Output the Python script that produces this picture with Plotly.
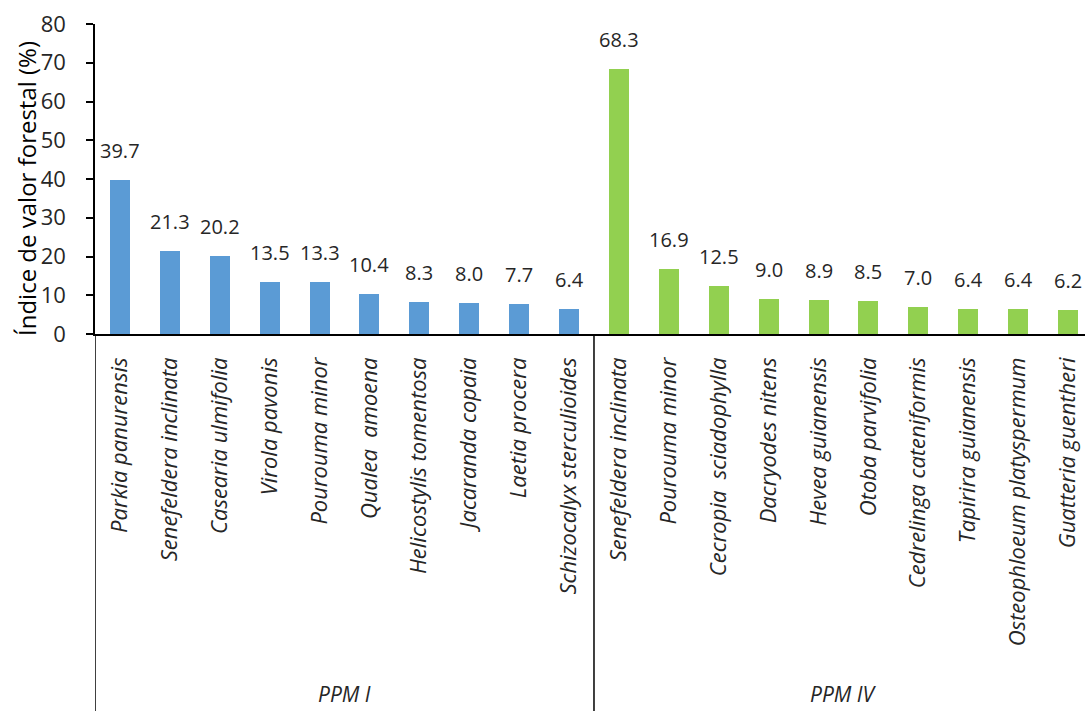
import plotly.graph_objects as go

# Species per permanent plot and their forest value index (%)
ppm1_species = ["Parkia panurensis", "Senefeldera inclinata", "Casearia ulmifolia",
                "Virola pavonis", "Pourouma minor", "Qualea\u00a0 amoena",
                "Helicostylis tomentosa", "Jacaranda copaia", "Laetia procera",
                "Schizocalyx sterculioides"]
ppm1_values = [39.7, 21.3, 20.2, 13.5, 13.3, 10.4, 8.3, 8.0, 7.7, 6.4]

ppm4_species = ["Senefeldera inclinata", "Pourouma minor", "Cecropia\u00a0 sciadophylla",
                "Dacryodes nitens", "Hevea guianensis", "Otoba parvifolia",
                "Cedrelinga cateniformis", "Tapirira guianensis",
                "Osteophloeum platyspermum", "Guatteria guentheri"]
ppm4_values = [68.3, 16.9, 12.5, 9.0, 8.9, 8.5, 7.0, 6.4, 6.4, 6.2]

group_names = ["PPM I", "PPM IV"]
y_ticks = [0, 10, 20, 30, 40, 50, 60, 70, 80]
y_title = "Índice de valor forestal (%)"

FONT = "Open Sans"
TXT = "#262626"

n1 = len(ppm1_species)
x1 = list(range(n1))
x4 = list(range(n1, n1 + len(ppm4_species)))

fig = go.Figure()
fig.add_trace(go.Bar(x=x1, y=ppm1_values, width=0.4,
                     marker=dict(color="#5B9BD5", line=dict(width=0))))
fig.add_trace(go.Bar(x=x4, y=ppm4_values, width=0.4,
                     marker=dict(color="#92D050", line=dict(width=0))))

all_x = x1 + x4
all_names = ppm1_species + ppm4_species
all_values = ppm1_values + ppm4_values

# Value labels above each bar
for xv, v in zip(all_x, all_values):
    fig.add_annotation(x=xv, y=v, xref="x", yref="y", text=f"{v:.1f}",
                       showarrow=False, yanchor="bottom", yshift=14,
                       font=dict(family=FONT, size=20, color=TXT))

H, W = 711, 1085
left, top, base = 95, 24, 334
plot_h = base - top
plot_w = W - left
bottom_paper = -(H - base) / plot_h

fig.update_layout(
    width=W, height=H,
    margin=dict(l=left, r=0, t=top, b=H - base),
    paper_bgcolor="white", plot_bgcolor="white",
    showlegend=False, bargap=0,
    font=dict(family=FONT, color=TXT),
    xaxis=dict(
        tickmode="array", tickvals=all_x,
        ticktext=[f"<i>{s}</i>" for s in all_names],
        tickangle=-90, tickfont=dict(family=FONT, size=22, color=TXT),
        range=[-0.5, 19.34], showline=True, linecolor="black", linewidth=1.5,
        ticks="", showgrid=False, zeroline=False, ticklabelstandoff=13,
    ),
    yaxis=dict(
        range=[0, 80], tickvals=y_ticks, ticks="outside", ticklen=7,
        tickcolor="black", tickwidth=1.5, showline=True, linecolor="black",
        linewidth=1.5, showgrid=False, zeroline=False, ticklabelstandoff=16,
        tickfont=dict(family=FONT, size=22, color=TXT),
    ),
)

# Vertical axis title
fig.add_annotation(x=(26 - left) / plot_w, xref="paper", y=(base - 189) / plot_h,
                   yref="paper", text=y_title, textangle=-90, showarrow=False,
                   xanchor="center", yanchor="middle",
                   font=dict(family=FONT, size=24, color="black"))

# Axis extension and plot divider down through the label area
fig.add_shape(type="line", xref="x", yref="paper", x0=-0.5, x1=-0.5,
              y0=bottom_paper, y1=0, line=dict(color="black", width=1.5))
fig.add_shape(type="line", xref="x", yref="paper", x0=n1 - 0.5, x1=n1 - 0.5,
              y0=bottom_paper, y1=0, line=dict(color="black", width=1.5))

# Group labels beneath the species names
for name, center in zip(group_names, [(n1 - 1) / 2, n1 + (len(ppm4_species) - 1) / 2]):
    fig.add_annotation(x=center, xref="x", y=(base - 694) / plot_h, yref="paper",
                       text=f"<i>{name}</i>", showarrow=False, yanchor="middle",
                       font=dict(family=FONT, size=21, color=TXT))

fig.write_html("out.html")
